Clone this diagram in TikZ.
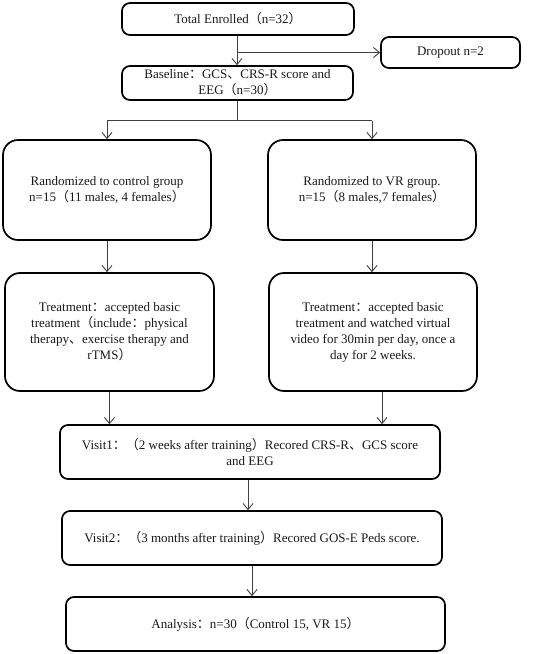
\documentclass[tikz,border=0pt]{standalone}
\usepackage{fontspec}
\setmainfont{Liberation Serif}
\newfontfamily\cjk{Noto Sans CJK SC}
\newcommand\zlp{{\cjk （}}
\newcommand\zrp{{\cjk ）}}
\newcommand\zcol{{\cjk ：}}
\newcommand\zdun{{\cjk 、}}
\usetikzlibrary{arrows.meta,calc}
\begin{document}
\begin{tikzpicture}[x=1pt,y=-1pt,
  box/.style={draw=black,line width=1.7pt,rounded corners=8pt,inner sep=0pt,align=center,
    font=\fontsize{13}{16}\selectfont,text=black!90},
  bigbox/.style={box,rounded corners=15pt},
  arr/.style={draw=black!75,line width=0.9pt,-{Straight Barb[length=6pt,width=10pt,line width=0.9pt]}},
  ln/.style={draw=black!75,line width=0.9pt}]
\useasboundingbox (0,0) rectangle (536,654);
\node[box,minimum width=232pt,minimum height=32pt] (total) at (238,19) {Total Enrolled\zlp n=32\zrp};
\node[box,minimum width=139pt,minimum height=31pt] (drop) at (450.5,52.5) {Dropout n=2};
\node[box,minimum width=231pt,minimum height=34pt] (base) at (237.5,83) {Baseline\zcol GCS\zdun CRS-R score and\\EEG\zlp n=30\zrp};
\node[bigbox,minimum width=208pt,minimum height=100pt] (ctrl) at (107,190) {Randomized to control group\\n=15\zlp 11 males, 4 females\zrp};
\node[bigbox,minimum width=208pt,minimum height=100pt] (vr) at (372,190) {Randomized to VR group.\\n=15\zlp 8 males,7 females\zrp};
\node[bigbox,minimum width=209pt,minimum height=118pt] (tctrl) at (109.5,332) {Treatment\zcol accepted basic\\treatment\zlp include\zcol physical\\therapy\zdun exercise therapy and\\rTMS\zrp};
\node[bigbox,minimum width=208pt,minimum height=118pt] (tvr) at (373,332) {Treatment\zcol accepted basic\\treatment and watched virtual\\video for 30min per day, once a\\day for 2 weeks.};
\node[box,minimum width=380pt,minimum height=54pt] (v1) at (250,452) {Visit1\zcol\zlp 2 weeks after training\zrp Recored CRS-R\zdun GCS score\\and EEG};
\node[box,minimum width=380pt,minimum height=54pt] (v2) at (252,538) {Visit2\zcol\zlp 3 months after training\zrp Recored GOS-E Peds score.};
\node[box,minimum width=379pt,minimum height=54pt] (an) at (255.5,624) {Analysis\zcol n=30\zlp Control 15, VR 15\zrp};
% connectors
\draw[arr] ([xshift=-1pt]total.south) -- ([xshift=-1pt]total.south |- base.north);
\draw[arr] ([xshift=-1pt]total.south |- drop.west) -- (drop.west);
\coordinate (split) at ($(base.south)+(0,20)$);
\draw[ln] (base.south) -- (split);
\draw[ln] (ctrl.north |- split) -- (vr.north |- split);
\draw[arr] (ctrl.north |- split) -- (ctrl.north);
\draw[arr] (vr.north |- split) -- (vr.north);
\draw[arr] (ctrl.south) -- (ctrl.south |- tctrl.north);
\draw[arr] (vr.south) -- (vr.south |- tvr.north);
\draw[arr] (tctrl.south) -- (tctrl.south |- v1.north);
\draw[arr] ([xshift=9pt]tvr.south) -- ([xshift=9pt]tvr.south |- v1.north);
\draw[arr] ([xshift=-2pt]v1.south) -- ([xshift=-2pt]v1.south |- v2.north);
\draw[arr] (v2.south) -- (v2.south |- an.north);
\end{tikzpicture}
\end{document}
